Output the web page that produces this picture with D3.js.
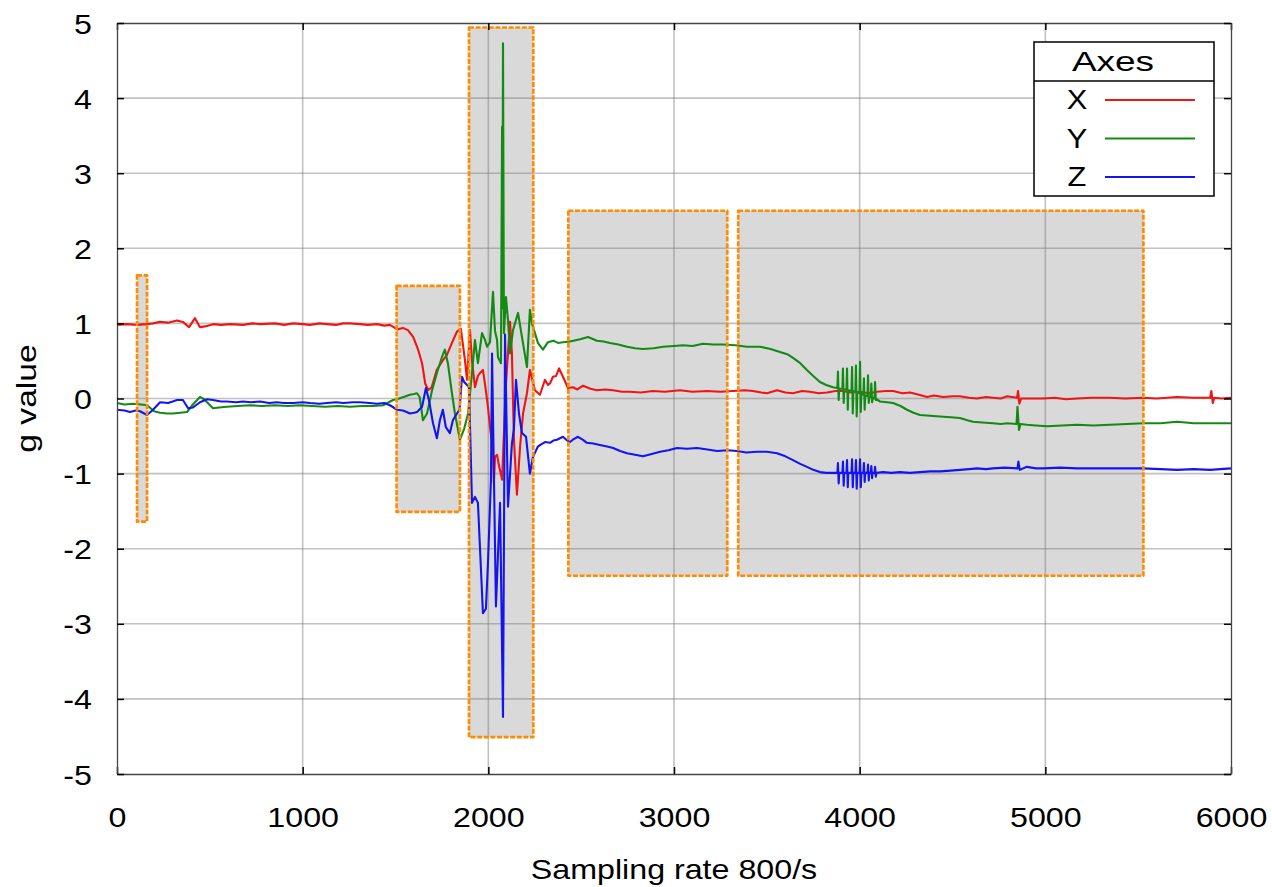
<!DOCTYPE html>
<html>
<head>
<meta charset="utf-8">
<script src="https://cdn.jsdelivr.net/npm/d3@7"></script>
<style>
  html, body { margin: 0; padding: 0; background: #fff; }
  svg { display: block; }
  text { font-family: "Liberation Sans", Arial, Helvetica, sans-serif; fill: #000; }
</style>
</head>
<body>
<svg id="chart" width="1272" height="887"></svg>
<script>
// Accelerometer trace, one [sample, g] pair per reading.
const seriesX = [
  [0,0.98],[54,0.99],[108,0.98],[160,0.99],[194,1.0],[232,1.02],[275,1.01],[323,1.04],[355,1.02],[388,0.95],
  [420,1.07],[447,0.95],[474,0.96],[517,0.99],[560,0.98],[609,0.99],[679,0.98],[730,1.0],[770,0.99],[851,1.0],
  [900,0.98],[948,1.0],[1000,0.99],[1039,0.98],[1090,1.0],[1131,0.99],[1180,0.98],[1217,1.0],[1255,1.0],[1309,0.99],
  [1350,0.98],[1400,0.99],[1440,0.97],[1470,0.98],[1490,0.95],[1508,0.92],[1540,0.94],[1567,0.91],[1595,0.82],[1622,0.65],
  [1643,0.47],[1660,0.2],[1676,0.11],[1695,0.15],[1722,0.38],[1750,0.49],[1777,0.58],[1804,0.74],[1831,0.89],[1852,0.93],
  [1874,0.51],[1885,0.25],[1901,0.91],[1912,0.5],[1928,0.15],[1944,0.3],[1955,0.34],[1971,0.38],[1987,0.1],[1998,-0.11],
  [2009,-0.38],[2025,-0.7],[2030,-1.13],[2036,-0.78],[2047,-0.75],[2058,-0.9],[2074,-1.08],[2095,0.2],[2117,1.02],[2127,0.6],
  [2138,-0.55],[2154,-1.28],[2171,-0.64],[2187,-0.2],[2208,0.07],[2224,0.38],[2251,0.11],[2278,0.05],[2305,0.25],[2321,0.18],
  [2332,0.2],[2348,0.29],[2365,0.3],[2381,0.4],[2402,0.29],[2429,0.14],[2456,0.15],[2480,0.12],[2510,0.17],[2550,0.13],
  [2585,0.11],[2630,0.12],[2672,0.11],[2720,0.09],[2763,0.09],[2820,0.08],[2887,0.1],[2950,0.09],[3032,0.11],[3100,0.09],
  [3178,0.1],[3250,0.09],[3318,0.1],[3380,0.11],[3426,0.1],[3470,0.08],[3501,0.07],[3555,0.11],[3600,0.08],[3641,0.07],
  [3690,0.1],[3732,0.09],[3780,0.07],[3824,0.08],[3870,0.1],[3910,0.1],[3950,0.08],[4002,0.09],[4050,0.07],[4093,0.09],
  [4140,0.1],[4180,0.1],[4230,0.07],[4271,0.08],[4320,0.05],[4363,0.02],[4400,0.04],[4449,0.02],[4500,0.03],[4540,0.03],
  [4590,0.01],[4632,0.0],[4680,0.02],[4718,0.01],[4760,0.0],[4794,0.03],[4848,0.01],[4853,0.1],[4860,-0.07],[4870,0.0],
  [4930,0.0],[4987,0.0],[5050,0.01],[5110,-0.01],[5171,0.0],[5250,0.01],[5348,0.01],[5430,0.0],[5526,0.01],[5600,0.0],
  [5709,0.02],[5800,0.01],[5888,0.01],[5894,0.1],[5902,-0.06],[5910,0.01],[5950,0.0],[6000,0.01]
];

const seriesY = [
  [0,-0.06],[40,-0.08],[86,-0.07],[130,-0.08],[162,-0.09],[200,-0.17],[232,-0.19],[270,-0.2],[302,-0.2],[340,-0.19],
  [377,-0.18],[409,-0.08],[447,0.02],[470,-0.01],[485,-0.05],[517,-0.13],[550,-0.12],[592,-0.11],[650,-0.1],[716,-0.09],
  [780,-0.1],[850,-0.09],[920,-0.1],[986,-0.09],[1050,-0.1],[1120,-0.11],[1190,-0.1],[1255,-0.11],[1320,-0.1],[1380,-0.1],
  [1433,-0.09],[1487,-0.02],[1520,0.0],[1578,0.05],[1600,0.06],[1616,0.07],[1630,0.02],[1648,-0.29],[1670,-0.2],[1697,0.11],
  [1723,0.34],[1750,0.55],[1766,0.65],[1782,0.47],[1804,0.07],[1820,-0.2],[1847,-0.55],[1870,-0.4],[1891,-0.2],[1912,0.34],
  [1928,0.78],[1944,0.47],[1966,0.87],[1982,0.78],[1993,0.69],[2009,0.75],[2025,1.42],[2036,0.9],[2047,0.78],[2052,0.55],
  [2068,0.47],[2074,3.62],[2076,1.2],[2079,4.73],[2084,0.87],[2095,1.35],[2106,1.04],[2117,0.6],[2133,0.91],[2160,1.14],
  [2181,0.82],[2208,0.42],[2224,1.18],[2235,1.0],[2251,0.87],[2267,0.74],[2294,0.65],[2321,0.75],[2350,0.77],[2375,0.74],
  [2402,0.75],[2440,0.76],[2494,0.79],[2537,0.82],[2585,0.77],[2620,0.76],[2655,0.74],[2700,0.72],[2747,0.69],[2790,0.67],
  [2833,0.66],[2890,0.67],[2941,0.69],[3000,0.7],[3048,0.71],[3100,0.7],[3156,0.73],[3210,0.72],[3264,0.72],[3330,0.71],
  [3393,0.69],[3463,0.69],[3520,0.66],[3571,0.62],[3610,0.59],[3641,0.54],[3680,0.47],[3716,0.38],[3750,0.3],[3786,0.22],
  [3820,0.18],[3856,0.15],[3878,0.14],
  [3880,0.14],[3883,0.36],[3887,-0.02],[3890,0.13],[3907,0.13],[3910,0.40],[3914,-0.06],[3917,0.12],
  [3929,0.12],[3932,0.40],[3936,-0.15],[3939,0.11],[3956,0.1],[3959,0.42],[3963,-0.2],[3966,0.1],
  [3977,0.09],[3980,0.44],[3984,-0.24],[3987,0.08],[3999,0.07],[4002,0.49],[4006,-0.18],[4009,0.06],
  [4020,0.05],[4023,0.27],[4027,-0.15],[4030,0.04],[4042,0.03],[4045,0.31],[4049,-0.06],[4052,0.02],
  [4060,0.02],[4063,0.2],[4067,-0.05],[4070,0.01],[4080,0.0],[4083,0.22],[4087,-0.02],[4090,-0.01],
  [4110,-0.04],[4147,-0.05],[4180,-0.06],[4220,-0.1],[4255,-0.15],[4290,-0.19],[4325,-0.22],[4380,-0.23],[4433,-0.24],[4490,-0.25],
  [4540,-0.26],[4580,-0.29],[4610,-0.31],[4660,-0.32],[4718,-0.33],[4760,-0.34],[4794,-0.33],[4845,-0.34],[4850,-0.11],[4858,-0.42],
  [4866,-0.34],[4901,-0.35],[4950,-0.36],[5009,-0.37],[5090,-0.36],[5171,-0.35],[5260,-0.36],[5348,-0.35],[5440,-0.34],[5526,-0.33],
  [5620,-0.33],[5709,-0.31],[5800,-0.33],[5887,-0.33],[6000,-0.33]
];

const seriesZ = [
  [0,-0.15],[40,-0.16],[70,-0.18],[100,-0.16],[124,-0.17],[162,-0.22],[194,-0.15],[232,-0.05],[275,-0.06],[300,-0.04],
  [323,-0.02],[355,-0.02],[383,-0.13],[409,-0.12],[447,-0.05],[485,-0.01],[517,-0.02],[560,-0.04],[592,-0.04],[640,-0.05],
  [679,-0.04],[720,-0.05],[770,-0.04],[820,-0.06],[860,-0.05],[900,-0.06],[948,-0.06],[1000,-0.05],[1039,-0.06],[1090,-0.07],
  [1131,-0.06],[1180,-0.05],[1220,-0.06],[1270,-0.05],[1309,-0.05],[1360,-0.06],[1400,-0.07],[1440,-0.06],[1470,-0.09],[1490,-0.12],
  [1508,-0.15],[1540,-0.16],[1560,-0.18],[1578,-0.2],[1600,-0.19],[1616,-0.18],[1643,-0.11],[1664,0.14],[1680,-0.02],[1702,-0.33],
  [1723,-0.53],[1739,-0.29],[1755,-0.15],[1771,-0.38],[1793,-0.46],[1809,-0.29],[1831,-0.2],[1845,-0.15],[1858,0.29],[1870,0.22],
  [1885,0.18],[1896,0.15],[1912,-1.39],[1928,-1.31],[1944,-1.39],[1971,-2.86],[1987,-2.8],[1998,-2.19],[2014,-1.09],[2020,0.6],
  [2041,-2.77],[2063,-1.39],[2079,-4.24],[2090,0.85],[2106,-1.44],[2127,-0.6],[2138,-0.4],[2149,0.25],[2165,-0.2],[2181,-0.46],
  [2203,-0.51],[2224,-1.0],[2240,-0.78],[2267,-0.64],[2278,-0.62],[2305,-0.58],[2332,-0.59],[2350,-0.56],[2370,-0.55],[2402,-0.51],
  [2420,-0.55],[2440,-0.58],[2460,-0.54],[2483,-0.51],[2510,-0.55],[2531,-0.59],[2565,-0.6],[2601,-0.62],[2640,-0.64],[2672,-0.66],
  [2710,-0.7],[2747,-0.73],[2790,-0.75],[2833,-0.77],[2880,-0.74],[2925,-0.71],[2970,-0.69],[3016,-0.66],[3070,-0.67],[3124,-0.66],
  [3180,-0.68],[3232,-0.7],[3290,-0.69],[3339,-0.7],[3390,-0.72],[3447,-0.71],[3500,-0.71],[3555,-0.73],[3600,-0.77],[3641,-0.82],
  [3680,-0.87],[3716,-0.91],[3750,-0.95],[3786,-0.98],[3820,-0.99],[3856,-0.99],[3878,-0.99],
  [3880,-0.99],[3883,-0.86],[3887,-1.13],[3890,-0.99],[3907,-0.99],[3910,-0.84],[3914,-1.16],[3917,-0.99],
  [3929,-0.99],[3932,-0.82],[3936,-1.18],[3939,-0.99],[3956,-0.99],[3959,-0.81],[3963,-1.18],[3966,-0.99],
  [3977,-0.99],[3980,-0.82],[3984,-1.2],[3987,-0.99],[3999,-0.99],[4002,-0.81],[4006,-1.18],[4009,-0.99],
  [4020,-0.99],[4023,-0.86],[4027,-1.11],[4030,-0.99],[4042,-0.99],[4045,-0.88],[4049,-1.09],[4052,-0.99],
  [4060,-0.99],[4063,-0.9],[4067,-1.06],[4070,-0.99],[4080,-0.99],[4083,-0.91],[4087,-1.04],[4090,-0.99],
  [4126,-0.98],[4170,-0.99],[4217,-0.98],[4270,-0.99],[4325,-0.98],[4380,-0.97],[4433,-0.97],[4490,-0.96],[4540,-0.95],[4590,-0.94],
  [4632,-0.93],[4680,-0.94],[4718,-0.93],[4780,-0.92],[4850,-0.93],[4855,-0.84],[4862,-0.95],[4901,-0.91],[4950,-0.93],[4987,-0.93],
  [5080,-0.92],[5171,-0.93],[5260,-0.93],[5348,-0.93],[5440,-0.93],[5526,-0.93],[5620,-0.94],[5709,-0.95],[5800,-0.94],[5887,-0.95],
  [6000,-0.93]
];

// Highlighted event windows: [startSample, endSample, low g, high g]
const eventWindows = [
  [108, 162, -1.64, 1.64],
  [1506, 1847, -1.51, 1.50],
  [1896, 2242, -4.51, 4.94],
  [2431, 3287, -2.36, 2.50],
  [3346, 5528, -2.36, 2.50]
];

const seriesNames = ["X", "Y", "Z"];
const seriesColors = ["#f01414", "#138a13", "#1414f0"];
const xTickValues = [0, 1000, 2000, 3000, 4000, 5000, 6000];
const yTickValues = [-5, -4, -3, -2, -1, 0, 1, 2, 3, 4, 5];

const W = 1272, H = 887;
const margin = { top: 23, right: 41, bottom: 113, left: 117 };
const iw = W - margin.left - margin.right;
const ih = H - margin.top - margin.bottom;

// widen glyphs horizontally (wide sans face), keeping the anchor in place
function widen(sel, k) {
  sel.each(function () {
    const len = this.getComputedTextLength();
    if (len > 0) d3.select(this).attr("textLength", len * k).attr("lengthAdjust", "spacingAndGlyphs");
  });
}

const svg = d3.select("#chart");
svg.append("rect").attr("width", W).attr("height", H).attr("fill", "#fff");
const g = svg.append("g").attr("transform", `translate(${margin.left},${margin.top})`);

const x = d3.scaleLinear().domain([0, 6000]).range([0, iw]);
const y = d3.scaleLinear().domain([-5, 5]).range([ih, 0]);

// window fills sit under the grid
g.append("g").selectAll("rect").data(eventWindows).join("rect")
  .attr("x", d => x(d[0])).attr("y", d => y(d[3]))
  .attr("width", d => x(d[1]) - x(d[0])).attr("height", d => y(d[2]) - y(d[3]))
  .attr("fill", "#d9d9d9");

// grid
const grid = g.append("g").attr("stroke", "rgba(120,120,120,0.45)").attr("stroke-width", 1.6);
grid.selectAll("line.v").data(xTickValues.slice(1, -1)).join("line").attr("class", "v")
  .attr("x1", d => x(d)).attr("x2", d => x(d)).attr("y1", 0).attr("y2", ih);
grid.selectAll("line.h").data(yTickValues.slice(1, -1)).join("line").attr("class", "h")
  .attr("y1", d => y(d)).attr("y2", d => y(d)).attr("x1", 0).attr("x2", iw);

// traces
const line = d3.line().x(d => x(d[0])).y(d => y(d[1]));
[seriesX, seriesY, seriesZ].forEach((s, i) => {
  g.append("path").datum(s).attr("d", line)
    .attr("fill", "none").attr("stroke", seriesColors[i])
    .attr("stroke-width", 2.1).attr("stroke-linejoin", "round");
});

// dashed window outlines on top of the traces
g.append("g").selectAll("rect").data(eventWindows).join("rect")
  .attr("x", d => x(d[0])).attr("y", d => y(d[3]))
  .attr("width", d => x(d[1]) - x(d[0])).attr("height", d => y(d[2]) - y(d[3]))
  .attr("fill", "none").attr("stroke", "#ff8c00").attr("stroke-width", 2.7)
  .attr("stroke-dasharray", "5,1.6").attr("stroke-linejoin", "round");

// frame with inward ticks on all four sides
const fmt = d => String(d);
const axB = g.append("g").attr("transform", `translate(0,${ih})`)
  .call(d3.axisBottom(x).tickValues(xTickValues).tickFormat(fmt).tickSizeInner(-7).tickSizeOuter(0).tickPadding(33));
const axT = g.append("g").call(d3.axisTop(x).tickValues(xTickValues).tickFormat("").tickSizeInner(-7).tickSizeOuter(0));
const axL = g.append("g")
  .call(d3.axisLeft(y).tickValues(yTickValues).tickFormat(fmt).tickSizeInner(-7).tickSizeOuter(0).tickPadding(25));
const axR = g.append("g").attr("transform", `translate(${iw},0)`)
  .call(d3.axisRight(y).tickValues(yTickValues).tickFormat("").tickSizeInner(-7).tickSizeOuter(0));
[axB, axT, axL, axR].forEach(a => {
  a.select(".domain").attr("stroke", "#444").attr("stroke-width", 1.3);
  a.selectAll(".tick line").attr("stroke", "#000").attr("stroke-width", 1.5);
  a.selectAll("text").attr("font-family", "Liberation Sans, Arial, sans-serif").attr("font-size", 28).attr("fill", "#000");
});
axB.selectAll(".tick text").attr("dy", "0.71em").call(widen, 1.15);
axL.selectAll(".tick text").attr("dy", "0.36em").call(widen, 1.15);

// axis titles
svg.append("text").attr("x", margin.left + iw / 2).attr("y", 879)
  .attr("text-anchor", "middle").attr("font-size", 28).text("Sampling rate 800/s").call(widen, 1.15);
svg.append("text").attr("transform", `translate(36,${margin.top + ih / 2}) rotate(-90)`)
  .attr("text-anchor", "middle").attr("font-size", 28).text("g value").call(widen, 1.2);

// legend
const lg = svg.append("g").attr("transform", `translate(${margin.left + iw - 197},${margin.top + 19})`);
lg.append("rect").attr("width", 180).attr("height", 154).attr("fill", "#fff").attr("stroke", "#000").attr("stroke-width", 1.5);
lg.append("line").attr("x1", 0).attr("x2", 180).attr("y1", 39).attr("y2", 39).attr("stroke", "#000").attr("stroke-width", 1.5);
lg.append("text").attr("x", 79).attr("y", 29).attr("text-anchor", "middle").attr("font-size", 28).text("Axes").call(widen, 1.32);
const rows = lg.selectAll("g.row").data(seriesNames).join("g").attr("class", "row")
  .attr("transform", (d, i) => `translate(0,${57 + i * 38.5})`);
rows.append("text").attr("x", 43).attr("y", 0).attr("dy", "0.36em").attr("text-anchor", "middle").attr("font-size", 28)
  .text(d => d).call(widen, 1.1);
rows.append("line").attr("x1", 71).attr("x2", 161).attr("y1", 1).attr("y2", 1)
  .attr("stroke", (d, i) => seriesColors[i]).attr("stroke-width", 1.8);
</script>
</body>
</html>
